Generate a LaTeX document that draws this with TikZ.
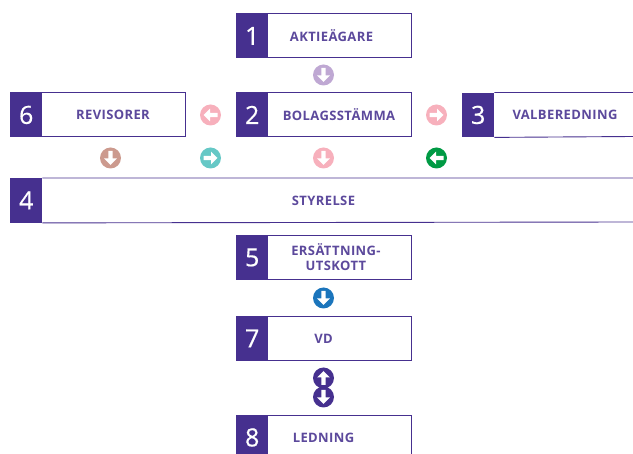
\documentclass[tikz,border=0pt]{standalone}
\usepackage{fontspec}
\setmainfont{Open Sans}
\newfontfamily\labelfont[LetterSpace=3]{Open Sans}
\newfontfamily\digitfont[FakeBold=0.5]{Open Sans}
\definecolor{ink}{HTML}{46308F}
\definecolor{lilac}{HTML}{BFA8D3}
\definecolor{rosy}{HTML}{F7B0BC}
\definecolor{teal}{HTML}{66C8C6}
\definecolor{forest}{HTML}{009A44}
\definecolor{clay}{HTML}{CC9A8E}
\definecolor{azure}{HTML}{1B75BC}
\tikzset{
  x=1pt,y=-1pt,
  bodybox/.style={draw=ink,line width=0.9pt,fill=white,minimum width=174.5pt,minimum height=44pt,inner sep=0pt,anchor=north west},
  numbox/.style={fill=ink,text=white,minimum width=32pt,minimum height=44.5pt,inner sep=0pt,font=\digitfont\fontsize{25pt}{25pt}\selectfont,anchor=north west},
  labeltext/.style={font=\labelfont\fontsize{13pt}{15pt}\selectfont\bfseries,text=ink!88,align=center,inner sep=0pt},
  openline/.style={draw=ink,line width=0.9pt},
  disc/.style={circle,minimum size=21pt,inner sep=0pt},
}
% \arrowdisc{name}{x}{y}{colour}{rotation}: down-pointing white arrow, rotated
\newcommand{\arrowdisc}[5]{%
  \node[disc,fill=#4] (#1) at (#2,#3) {};
  \fill[white,rotate around={#5:(#1.center)},shift={(#1.center)}]
    (-2.2,-7) -- (2.2,-7) -- (2.2,0.5) -- (6.4,0.5) -- (0,7) -- (-6.4,0.5) -- (-2.2,0.5) -- cycle;
}
\begin{document}
\begin{tikzpicture}
\useasboundingbox (0,0) rectangle (633,454);
\node[bodybox] (b1) at (236,13.5) {};
\node[numbox] (n1) at (236,13.5) {1};
\node[labeltext] (t1) at (331.5,36) {AKTIEÄGARE};
\arrowdisc{a12}{323.5}{75}{lilac}{0}

\node[bodybox] (b2) at (236,92.5) {};
\node[numbox] (n2) at (236,92.5) {2};
\node[labeltext] (t2) at (339,115) {BOLAGSSTÄMMA};

\node[bodybox] (b6) at (10,92.5) {};
\node[numbox] (n6) at (10,92.5) {6};
\node[labeltext] (t6) at (113,115) {REVISORER};

\node[numbox] (n3) at (462,92.5) {3};
\draw[openline] (n3.north east) -- (633,92.5) (n3.south east) -- (633,136.5);
\node[labeltext] (t3) at (565,115) {VALBEREDNING};

\arrowdisc{a26}{210.5}{115}{rosy}{-90}
\arrowdisc{a23}{436.5}{115}{rosy}{90}
\arrowdisc{a64}{110.5}{158}{clay}{0}
\arrowdisc{a2t}{210.5}{158}{teal}{90}
\arrowdisc{a24}{323.5}{158}{rosy}{0}
\arrowdisc{a34}{436.5}{158}{forest}{-90}

\node[numbox] (n4) at (10,178) {4};
\draw[openline] (n4.north east) -- (633,178) (n4.south east) -- (633,222);
\node[labeltext] (t4) at (323.5,200.5) {STYRELSE};

\node[bodybox] (b5) at (236,235) {};
\node[numbox] (n5) at (236,235) {5};
\node[labeltext] (t5) at (336,257.5) {ERSÄTTNING-\\UTSKOTT};
\arrowdisc{a57}{323.5}{298}{azure}{0}

\node[bodybox] (b7) at (236,316) {};
\node[numbox] (n7) at (236,316) {7};
\node[labeltext] (t7) at (323.5,338.5) {VD};
\arrowdisc{a78u}{323.5}{378}{ink}{180}
\arrowdisc{a78d}{323.5}{397}{ink}{0}

\node[bodybox] (b8) at (236,415) {};
\node[numbox] (n8) at (236,415) {8};
\node[labeltext] (t8) at (323.5,437.5) {LEDNING};
\end{tikzpicture}
\end{document}
